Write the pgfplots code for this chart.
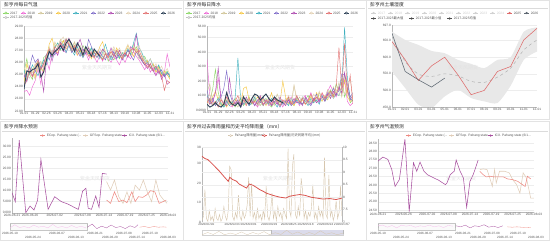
\documentclass[border=0pt]{standalone}
\usepackage{pgfplots}
\pgfplotsset{compat=1.18}
\usepgfplotslibrary{fillbetween}
\usepackage{fontspec}
\setmainfont{Liberation Sans}
\newfontfamily\cjk{Noto Sans CJK SC}

\newcommand{\fs}[1]{\fontsize{#1}{#1}\selectfont}

% season colours
\definecolor{y17}{HTML}{8CD867}
\definecolor{y18}{HTML}{EE6AD6}
\definecolor{y19}{HTML}{D2C79A}
\definecolor{y20}{HTML}{F6C744}
\definecolor{y21}{HTML}{3FB0BF}
\definecolor{y22}{HTML}{7E6BC9}
\definecolor{y23}{HTML}{B04FB2}
\definecolor{y24}{HTML}{E3D2B4}
\definecolor{y25}{HTML}{E37373}
\definecolor{y26}{HTML}{2E4257}
% forecast colours
\definecolor{fec}{HTML}{EE8A82}
\definecolor{fgfs}{HTML}{E0CDB8}
\definecolor{fic}{HTML}{A8509F}
\definecolor{soilred}{HTML}{DE6B6B}
\definecolor{soildark}{HTML}{5E6872}
\definecolor{rainbeige}{HTML}{D6C6AE}
\definecolor{rainred}{HTML}{D95550}
\definecolor{txt}{HTML}{555555}

\pgfplotsset{
  panel/.style={
    scale only axis,
    axis x line*=bottom, axis y line*=left,
    axis line style={-, draw=gray!55, line width=0.35pt},
    major tick length=0pt,
    ymajorgrids, grid style={draw=gray!14, line width=0.3pt},
    tick label style={font=\fs{3.2}, text=txt},
    /pgf/number format/assume math mode=true,
    xticklabel style={inner sep=0.9pt},
    yticklabel style={inner sep=1pt},
    every axis plot/.append style={line width=0.45pt, mark=none},
  },
  slider/.style={
    scale only axis, hide axis, clip=true,
    every axis plot/.append style={line width=0.3pt, mark=none},
  },
}

% weekly series: one value per week, week number taken from the row index
\newcommand{\wk}[2]{\addplot[#1] table[header=false,row sep=\\,x expr=\coordindex,y index=0]{#2};}

% legend keys
\newcommand{\keyo}[4]{% x, y, colour, text  (line with hollow circle)
  \draw[#3, line width=0.45pt] (#1,#2) -- ++(5.2,0);
  \draw[#3, fill=white, line width=0.45pt] (#1+2.6,#2) circle (1.1);
  \node[anchor=west, inner sep=0pt, font=\fs{3.3}, text=txt] at (#1+6.6,#2) {#4};}
\newcommand{\keyd}[4]{% x, y, colour, text  (line with dot)
  \draw[#3, line width=0.45pt] (#1,#2) -- ++(5.2,0);
  \fill[#3] (#1+2.6,#2) circle (1.2);
  \node[anchor=west, inner sep=0pt, font=\fs{3.3}, text=txt] at (#1+6.6,#2) {#4};}
\newcommand{\keyg}[3]{% x, y, text  (inactive entry)
  \draw[gray!35, line width=0.45pt] (#1,#2) -- ++(5.2,0);
  \fill[gray!35] (#1+2.6,#2) circle (1.2);
  \node[anchor=west, inner sep=0pt, font=\fs{3.3}, text=gray!40] at (#1+6.6,#2) {#3};}

\begin{document}
\begin{tikzpicture}

% ---------- frames, titles, legends ----------
\begin{scope}[x=1pt,y=1pt]
  \path (0,0) rectangle (550,241);
  \foreach \px in {0,183,366} {
    \draw[gray!22, line width=0.4pt] (\px+0.5,121.5) rectangle (\px+183.5,240.5);
    \draw[gray!22, line width=0.4pt] (\px+0.5,0.5) rectangle (\px+183.5,119.5);
    \draw[gray!28, line width=0.35pt] (\px+2,232.7) -- (\px+182,232.7);
    \draw[gray!28, line width=0.35pt] (\px+2,109.5) -- (\px+182,109.5);
  }
  \node[anchor=west, inner sep=0pt, font=\fs{4.8}\cjk, text=black!85] at (4,236) {彭亨州每日气温};
  \node[anchor=west, inner sep=0pt, font=\fs{4.8}\cjk, text=black!85] at (187,236) {彭亨州每日降水};
  \node[anchor=west, inner sep=0pt, font=\fs{4.8}\cjk, text=black!85] at (370,236) {彭亨州土壤湿度};
  \node[anchor=west, inner sep=0pt, font=\fs{4.8}\cjk, text=black!85] at (4,114) {彭亨州降水预测};
  \node[anchor=west, inner sep=0pt, font=\fs{4.8}\cjk, text=black!85] at (187,114) {彭亨州过去降雨量和历史平均降雨量（mm）};
  \node[anchor=west, inner sep=0pt, font=\fs{4.8}\cjk, text=black!85] at (370,114) {彭亨州气温预测};

  % watermarks
  \foreach \cx/\cy in {97/173, 280/173, 463/173, 95/62, 278/62, 461/62}
    \node[text=gray!22, font=\fs{5}\cjk] at (\cx,\cy) {紫金天风期货};

  % legends of the two weekly panels
  \foreach \ox in {0,183} {
    \keyo{\ox+3.3}{228}{y17}{2017}
    \keyo{\ox+20.8}{228}{y18}{2018}
    \keyo{\ox+38.3}{228}{y19}{2019}
    \keyo{\ox+55.8}{228}{y20}{2020}
    \keyo{\ox+73.3}{228}{y21}{2021}
    \keyo{\ox+90.8}{228}{y22}{2022}
    \keyo{\ox+108.3}{228}{y23}{2023}
    \keyo{\ox+125.8}{228}{y24}{2024}
    \keyo{\ox+143.3}{228}{y25}{2025}
    \keyo{\ox+160.8}{228}{y26}{2026}
    \keyo{\ox+3.3}{223.5}{gray!50}{\cjk 2017-2025均值}
  }
  % soil moisture legend
  \foreach \i/\yr in {0/2017,1/2018,2/2019,3/2020,4/2021,5/2022,6/2023,7/2024} {
    \keyg{371+17*\i}{228}{\yr}
  }
  \keyd{371+136}{228}{soilred}{2025}
  \keyd{371+153}{228}{soildark}{2026}
  \keyd{371}{222.5}{black!70}{\cjk 2017-2025最大值}
  \keyd{371+38}{222.5}{black!70}{\cjk 2017-2025最小值}
  \keyd{371+76}{222.5}{black!70}{\cjk 2017-2025均值}

  % forecast legends
  \foreach \ox in {0,366} {
    \keyd{\ox+40}{105.4}{fec}{ECop. Pahang state (...}
    \keyd{\ox+83}{105.4}{fgfs}{GFSop. Pahang state ...}
    \keyd{\ox+122}{105.4}{fic}{ICX. Pahang state (6/1...}
  }
  % rainfall history legend
  \keyo{228}{105.4}{rainbeige}{\cjk Pahang降雨量(mm)}
  \keyo{262}{105.4}{rainred}{\cjk Pahang降雨量(历史同期平均)(mm)}
\end{scope}

% ---------- daily temperature by season ----------
\begin{axis}[panel, at={(24pt,130pt)}, width=146pt, height=85pt,
  xmin=0, xmax=52, ymin=22, ymax=29,
  ytick={22,...,29}, yticklabels={22.00,23.00,24.00,25.00,26.00,27.00,28.00,29.00},
  xtick={0,4,...,52},
  xticklabels={01-01,01-29,02-26,03-26,04-23,05-21,06-18,07-16,08-13,09-10,10-08,11-05,12-03,12-31}]
\wk{y17}{25.2\\26.3\\25.0\\24.6\\25.8\\26.0\\25.3\\26.4\\26.6\\27.0\\26.5\\27.3\\27.6\\27.0\\27.8\\27.4\\27.9\\27.2\\27.6\\27.1\\26.8\\27.4\\26.9\\26.7\\27.2\\26.4\\26.9\\26.6\\26.3\\26.8\\26.1\\26.5\\26.2\\26.7\\26.3\\26.8\\26.5\\27.0\\26.6\\26.9\\27.3\\26.7\\26.2\\26.5\\25.9\\25.6\\25.8\\25.4\\25.7\\25.1\\24.9\\25.3\\24.8\\}
\wk{y18}{23.6\\23.7\\23.3\\24.0\\24.5\\25.5\\24.2\\25.8\\26.2\\25.4\\26.8\\27.1\\26.6\\27.5\\27.0\\26.8\\27.6\\26.9\\27.3\\26.6\\27.1\\26.4\\26.8\\26.2\\26.9\\26.5\\26.0\\26.6\\26.1\\26.7\\26.3\\26.0\\26.5\\26.2\\25.8\\26.4\\26.0\\26.6\\26.3\\26.9\\26.5\\26.2\\25.8\\25.4\\25.9\\25.2\\25.6\\25.0\\25.4\\24.8\\25.2\\26.7\\25.6\\}
\wk{y19}{25.0\\24.8\\25.6\\25.2\\24.6\\25.8\\26.1\\25.4\\26.5\\27.2\\26.7\\27.6\\27.3\\27.9\\27.4\\28.0\\27.6\\27.2\\27.7\\27.0\\26.6\\27.1\\26.8\\27.3\\26.5\\26.9\\26.4\\26.7\\27.0\\26.3\\26.8\\26.5\\27.1\\26.6\\27.0\\26.4\\26.8\\27.2\\26.7\\27.5\\26.9\\26.3\\26.6\\25.9\\26.2\\25.5\\25.8\\25.2\\25.6\\24.9\\25.3\\25.0\\24.7\\}
\wk{y20}{24.3\\25.9\\25.0\\25.5\\24.8\\26.0\\25.6\\25.2\\26.4\\27.5\\28.0\\27.0\\26.8\\27.4\\27.8\\27.1\\27.5\\26.9\\27.3\\26.6\\27.0\\26.5\\27.2\\26.8\\26.3\\26.9\\26.6\\27.3\\27.7\\26.8\\26.4\\26.9\\26.5\\27.2\\26.7\\26.3\\26.9\\27.4\\27.0\\26.5\\27.1\\26.6\\26.2\\25.8\\26.1\\25.5\\25.9\\25.2\\25.6\\24.9\\25.3\\25.0\\24.6\\}
\wk{y21}{25.4\\24.5\\25.1\\25.8\\25.3\\24.9\\25.6\\26.2\\25.8\\26.9\\26.4\\27.2\\27.6\\27.1\\27.5\\26.8\\27.4\\27.0\\26.6\\27.3\\26.8\\26.4\\27.0\\26.7\\27.2\\26.5\\26.9\\26.3\\26.8\\27.5\\26.7\\26.2\\26.6\\26.9\\26.4\\26.8\\26.5\\27.1\\26.7\\27.6\\28.4\\27.2\\26.8\\26.2\\25.9\\26.3\\25.7\\25.4\\25.8\\25.1\\24.9\\25.2\\24.8\\}
\wk{y22}{24.8\\25.2\\25.6\\26.6\\26.0\\26.3\\25.5\\25.9\\26.7\\26.2\\27.0\\26.6\\27.3\\27.7\\27.2\\27.9\\27.4\\26.8\\27.2\\26.9\\26.5\\27.1\\26.7\\27.9\\27.3\\26.8\\26.4\\26.9\\26.5\\26.2\\26.8\\26.4\\26.9\\26.3\\26.7\\26.2\\26.6\\27.0\\26.6\\26.2\\26.9\\26.5\\26.1\\25.8\\26.0\\25.6\\25.3\\25.7\\25.1\\25.4\\24.8\\25.1\\25.0\\}
\wk{y23}{25.0\\24.4\\25.7\\24.9\\25.3\\25.9\\25.1\\23.6\\26.3\\26.9\\26.1\\27.0\\26.6\\27.4\\26.9\\27.3\\28.0\\27.5\\26.9\\27.4\\27.9\\27.1\\26.7\\27.2\\26.6\\26.4\\26.9\\26.6\\27.1\\26.8\\26.5\\27.2\\26.6\\26.4\\27.0\\26.5\\26.8\\26.4\\27.3\\27.0\\28.3\\26.6\\26.2\\25.8\\25.5\\25.9\\25.3\\24.9\\25.4\\24.6\\25.1\\24.2\\24.4\\}
\wk{y24}{25.6\\25.0\\24.7\\25.4\\25.9\\25.3\\26.0\\25.7\\26.5\\27.3\\26.8\\27.7\\27.2\\27.8\\28.1\\27.4\\27.8\\27.3\\27.6\\27.0\\27.4\\26.8\\27.1\\26.6\\26.9\\26.3\\26.8\\27.2\\26.6\\26.9\\26.4\\26.8\\27.3\\26.7\\27.2\\26.6\\27.0\\27.5\\26.8\\27.3\\26.9\\27.4\\26.6\\26.2\\25.9\\26.3\\25.6\\25.9\\25.3\\25.7\\25.1\\25.5\\25.0\\}
\wk{y25}{24.0\\24.6\\25.3\\24.8\\25.6\\26.2\\25.4\\25.9\\26.6\\27.1\\26.5\\27.3\\27.0\\27.6\\27.2\\27.9\\27.5\\27.1\\27.4\\26.9\\27.2\\26.7\\27.0\\26.5\\26.8\\26.4\\26.9\\26.6\\26.2\\26.7\\26.4\\26.9\\26.5\\27.0\\26.6\\26.3\\26.8\\26.5\\27.0\\27.2\\26.8\\27.0\\26.4\\26.0\\25.6\\25.9\\25.3\\25.7\\25.2\\24.9\\23.7\\24.5\\24.3\\}
\wk{y26, line width=0.9pt}{23.8\\25.3\\25.2\\25.4\\25.5\\25.9\\24.8\\25.2\\26.2\\26.9\\26.6\\26.9\\27.1\\27.4\\27.0\\27.6\\27.9\\27.5\\26.9\\27.6\\27.2\\26.6\\27.3\\26.9\\26.5\\27.1\\26.8\\26.5\\}
\end{axis}

% ---------- daily rainfall by season ----------
\begin{axis}[panel, at={(207pt,131pt)}, width=146pt, height=84pt,
  xmin=0, xmax=52, ymin=0, ymax=58,
  ytick={0,10,20,30,40,50,58}, yticklabels={0.0000,10.00,20.00,30.00,40.00,50.00,58.00},
  xtick={0,4,...,52},
  xticklabels={01-01,01-29,02-26,03-26,04-23,05-21,06-18,07-16,08-13,09-10,10-08,11-05,12-03,12-31}]
\wk{y17}{8\\6\\14\\28\\12\\5\\3\\7\\4\\6\\2\\5\\8\\3\\6\\9\\4\\7\\5\\3\\6\\8\\4\\2\\5\\7\\3\\6\\4\\8\\5\\3\\9\\6\\4\\7\\10\\5\\8\\6\\12\\9\\7\\11\\14\\10\\18\\13\\22\\9\\15\\5\\7\\}
\wk{y18}{35\\10\\5\\12\\22\\8\\4\\6\\3\\2\\5\\7\\4\\9\\6\\3\\8\\5\\2\\6\\4\\7\\3\\5\\8\\4\\6\\2\\7\\5\\9\\4\\6\\3\\8\\10\\6\\12\\7\\9\\5\\11\\8\\13\\17\\12\\9\\15\\11\\20\\6\\3\\5\\}
\wk{y19}{12\\18\\6\\3\\9\\5\\2\\4\\7\\3\\5\\2\\6\\10\\4\\7\\5\\8\\3\\6\\9\\4\\7\\3\\5\\11\\6\\4\\8\\5\\3\\17\\6\\9\\4\\7\\5\\10\\6\\8\\12\\7\\9\\14\\8\\16\\11\\19\\9\\24\\13\\8\\10\\}
\wk{y20}{6\\4\\9\\13\\7\\3\\5\\2\\6\\4\\8\\5\\3\\15\\16\\7\\4\\6\\9\\5\\8\\3\\6\\12\\4\\7\\5\\20\\9\\4\\6\\3\\8\\5\\7\\4\\6\\9\\5\\12\\8\\6\\10\\7\\13\\9\\11\\16\\12\\21\\9\\6\\8\\}
\wk{y21}{10\\7\\3\\5\\8\\4\\2\\6\\3\\5\\8\\36\\7\\4\\6\\3\\5\\9\\4\\7\\3\\6\\4\\8\\5\\2\\7\\4\\6\\3\\8\\5\\7\\4\\9\\6\\3\\8\\5\\7\\4\\10\\6\\9\\12\\8\\11\\10\\15\\57\\22\\8\\6\\}
\wk{y22}{14\\5\\8\\3\\6\\9\\15\\27\\12\\6\\4\\7\\3\\5\\8\\4\\6\\3\\7\\5\\9\\4\\6\\3\\8\\5\\2\\6\\4\\7\\3\\5\\9\\6\\4\\8\\5\\3\\7\\11\\6\\9\\8\\12\\10\\15\\11\\13\\25\\24\\18\\9\\12\\}
\wk{y23}{9\\4\\6\\12\\29\\7\\5\\3\\22\\8\\4\\6\\2\\5\\9\\4\\7\\3\\6\\10\\4\\5\\8\\3\\6\\4\\9\\5\\3\\7\\4\\8\\5\\6\\3\\9\\6\\4\\8\\5\\7\\9\\6\\11\\8\\13\\10\\16\\12\\26\\14\\7\\10\\}
\wk{y24}{7\\11\\4\\6\\3\\8\\5\\9\\4\\7\\3\\6\\10\\5\\8\\4\\6\\11\\5\\3\\7\\4\\9\\6\\3\\8\\5\\7\\4\\10\\6\\17\\8\\5\\9\\7\\4\\6\\11\\8\\13\\7\\10\\9\\12\\8\\14\\10\\16\\11\\19\\21\\8\\}
\wk{y25}{5\\8\\3\\6\\2\\7\\4\\9\\5\\3\\6\\10\\4\\7\\3\\8\\5\\6\\4\\9\\3\\7\\5\\4\\8\\6\\3\\7\\5\\9\\4\\6\\10\\5\\8\\4\\7\\11\\6\\9\\7\\12\\8\\10\\13\\9\\16\\43\\14\\46\\12\\24\\4\\}
\wk{y26, line width=0.9pt}{4\\2\\3\\5\\3\\2\\4\\12\\6\\4\\3\\5\\2\\9\\6\\4\\8\\11\\10\\7\\9\\11\\8\\6\\9\\7\\6\\5\\}
\end{axis}

% ---------- soil moisture ----------
\begin{axis}[panel, at={(392pt,134pt)}, width=145pt, height=82pt,
  xmin=1, xmax=12, ymin=450, ymax=697,
  ytick={450,500,550,600,650,697}, yticklabels={450.0,500.0,550.0,600.0,650.0,697.0},
  xtick={1,...,12},
  xticklabels={01-01,02-01,03-01,04-01,05-01,06-01,07-01,08-01,09-01,10-01,11-01,12-01}]
\addplot[name path=up, draw=none, smooth, tension=0.4] coordinates
  {(1,677) (2,652) (3,637) (4,619) (5,612) (6,592) (7,580) (8,567) (9,592) (10,600) (11,677) (12,690)};
\addplot[name path=lo, draw=none, smooth, tension=0.4] coordinates
  {(1,557) (2,507) (3,457) (4,447) (5,482) (6,502) (7,477) (8,467) (9,462) (10,514) (11,592) (12,617)};
\addplot[fill=gray!18, draw=none] fill between[of=up and lo];
\addplot[gray!60, dashed, line width=0.5pt, smooth, tension=0.4] coordinates
  {(1,662) (2,587) (3,549) (4,542) (5,550) (6,544) (7,527) (8,524) (9,540) (10,567) (11,622) (12,652)};
\addplot[soilred, line width=0.55pt] coordinates
  {(1,647) (2,592) (3,530) (4,574) (5,600) (6,547) (7,487) (8,500) (9,557) (10,572) (11,652) (12,687)};
\addplot[soildark, line width=0.55pt] coordinates
  {(1,672) (2,557) (3,532) (4,510) (5,537)};
\end{axis}

% ---------- rainfall forecast ----------
\begin{axis}[panel, at={(12pt,28.3pt)}, width=156pt, height=74.4pt,
  xmin=30, xmax=505, ymin=0, ymax=33.5,
  ytick={0,5,10,15,20,25,30}, yticklabels={0.000,5.000,10.00,15.00,20.00,25.00,30.00},
  xtick={30,85,160,245,310,375,440,505},
  xticklabels={2026-06-21,2026-06-26,2026-07-02,2026-07-08,2026-07-14,2026-07-19,2026-07-25,2026-08-03}]
\addplot[fic, line width=0.55pt] coordinates {(30,9) (40,5) (52,32.7) (72,0) (85,3) (97,1.2) (108,5.7) (118,24) (140,1.5) (160,7.2) (180,5) (200,3.9) (225,2) (232,1.5) (245,9.7) (255,11) (262,2) (272,1.5) (285,7.5) (295,2.4) (305,17.7) (318,17.4)};
\addplot[fgfs, line width=0.55pt] coordinates {(318,14) (330,10.2) (342,14.7) (355,7.2) (368,4.2) (380,9.4) (392,4.2) (405,12.4) (418,10.2) (430,14.7) (442,9.4) (455,5) (468,14.7) (480,8) (492,5.7) (502,4.2)};
\addplot[fec, line width=0.55pt] coordinates {(318,5.7) (330,4.2) (342,9.4) (355,5) (368,5.7) (380,4.5) (395,9.4) (405,5) (415,7.2) (428,6.9) (440,8) (452,9.9) (465,9.4) (478,4.2) (490,5) (500,5.7)};
\end{axis}

% ---------- temperature forecast ----------
\begin{axis}[panel, at={(378pt,29.3pt)}, width=156pt, height=72.7pt,
  xmin=30, xmax=505, ymin=24.4, ymax=28.75,
  ytick={24.5,25,...,28.5}, yticklabels={24.50,25.00,25.50,26.00,26.50,27.00,27.50,28.00,28.50},
  xtick={30,108,180,245,310,375,440,505},
  xticklabels={2026-06-21,2026-06-26,2026-07-02,2026-07-08,2026-07-14,2026-07-19,2026-07-25,2026-08-03}]
\addplot[fic, line width=0.55pt] coordinates {(30,27.43) (45,27.67) (60,27.53) (72,26.92) (82,25.91) (95,26.32) (112,28.74) (125,24.40) (138,27.33) (148,26.82) (158,27.37) (170,26.82) (180,26.62) (200,26.42) (215,26.28) (235,26.02) (240,26.12) (250,26.62) (262,26.82) (268,27.49) (280,26.82) (290,26.42) (300,24.66) (310,26.22) (320,26.62) (335,27.49)};
\addplot[fgfs, line width=0.55pt] coordinates {(340,26.92) (350,26.96) (362,26.92) (372,26.32) (378,25.91) (385,26.92) (390,26.12) (400,26.82) (415,26.82) (430,26.72) (440,26.32) (452,26.02) (462,25.51) (472,26.72) (482,26.42) (495,25.21) (505,25.21)};
\addplot[fec, line width=0.55pt] coordinates {(340,26.82) (350,26.62) (360,26.48) (372,26.52) (385,26.48) (400,26.48) (412,26.48) (425,26.36) (440,26.32) (455,26.22) (470,26.02) (478,25.91) (485,26.52) (495,26.36)};
\end{axis}

% ---------- rainfall history vs average ----------
\begin{axis}[panel, at={(202pt,18.7pt)}, width=140pt, height=75pt,
  xmin=0, xmax=192, ymin=0, ymax=38.5, ymajorgrids=false,
  ytick={0,10,20,30,38.5}, yticklabels={0,10,20,30,38},
  xtick={6,42,64,92,119,142,169,192},
  xticklabels={2026/01/02,2026/02/07,2026/03/01,2026/03/29,2026/04/25,2026/05/18,2026/06/14,2026/07/07}]
\addplot[rainbeige, line width=0.45pt] table[header=false,row sep=\\,x expr=2*\coordindex,y index=0]{1\\3\\16.8\\2\\0.5\\6\\1\\3\\0.5\\7\\2\\1\\4\\0.5\\2\\8\\3\\1\\6\\28.7\\27\\3\\1\\5\\2\\14\\3\\1\\6\\2\\4\\9\\23\\3\\20\\2\\5\\1\\7\\2\\4\\1\\6\\2\\18.5\\3\\1\\5\\15\\2\\6\\1\\8\\3\\5\\1\\7\\4\\2\\37.8\\6\\3\\28.7\\35\\4\\2\\8\\3\\22.7\\16\\2\\6\\1\\5\\3\\7\\19.3\\2\\5\\1\\8\\3\\6\\2\\33.3\\4\\2\\24.4\\3\\6\\1\\4\\11\\2\\5\\18.5\\3\\};
\end{axis}
\begin{axis}[panel, at={(202pt,18.7pt)}, width=140pt, height=75pt,
  axis x line=none, axis y line*=right,
  xmin=0, xmax=192, ymin=7, ymax=10,
  ytick={7,7.5,...,10}, yticklabels={7,7.5,8,8.5,9,9.5,10}]
\addplot[rainred, line width=0.8pt] coordinates {(0,9.64) (4,9.55) (8,9.51) (15,9.31) (24,9.04) (31,8.80) (36,8.64) (38,8.80) (42,8.71) (47,8.65) (51,8.53) (56,8.45) (61,8.37) (65,8.53) (70,8.48) (75,8.39) (79,8.31) (84,8.24) (88,8.17) (93,8.12) (97,8.08) (102,8.04) (106,8.01) (115,7.97) (120,8.04) (127,8.08) (134,8.11) (141,8.08) (150,8.00) (157,7.97) (166,7.93) (175,7.95) (184,7.91) (192,7.97)};
\end{axis}

% ---------- range sliders ----------
\begin{scope}[x=1pt,y=1pt]
  % rainfall forecast
  \draw[gray!45, fill=gray!4, line width=0.35pt] (10,11) rectangle (87,18);
  \fill[gray!55] (9.5,12.5) rectangle (10.5,16.5);
  \fill[gray!55] (86.5,12.5) rectangle (87.5,16.5);
  % temperature forecast
  \draw[gray!45, fill=gray!4, line width=0.35pt] (378,11) rectangle (455,18);
  \fill[gray!55] (377.5,12.5) rectangle (378.5,16.5);
  \fill[gray!55] (454.5,12.5) rectangle (455.5,16.5);
  % rainfall history
  \draw[gray!35, line width=0.35pt] (202,5.7) rectangle (343,11.3);
  \fill[blue!30!gray!22] (271,5.7) rectangle (343,11.3);
  \fill[gray!55] (270.5,6.5) rectangle (271.5,10.5);
  \fill[gray!55] (342.5,6.5) rectangle (343.5,10.5);
  % slider date labels
  \foreach \lx/\lt in {10/2026-05-19, 57/2026-06-07, 95/2026-06-21, 124/2026-07-08, 150/2026-07-19} {
    \node[font=\fs{3.1}, text=txt, inner sep=0pt] at (\lx,8) {\lt};
    \node[font=\fs{3.1}, text=txt, inner sep=0pt] at (366+\lx+2,8) {\lt};}
  \foreach \lx/\lt in {33/2026-05-24, 76/2026-06-13, 110/2026-06-29, 137/2026-07-14, 168/2026-08-03} {
    \node[font=\fs{3.1}, text=txt, inner sep=0pt] at (\lx,4) {\lt};
    \node[font=\fs{3.1}, text=txt, inner sep=0pt] at (366+\lx+2,4) {\lt};}
\end{scope}

\begin{axis}[slider, at={(10pt,11pt)}, width=158pt, height=7pt, xmin=0, xmax=100, ymin=0, ymax=1]
\addplot[y18!45] coordinates {(0,0.3) (3,0.75) (6,0.35) (9,0.5) (12,0.3) (15,0.7) (18,0.4) (21,0.55) (24,0.3) (27,0.8) (30,0.35) (33,0.5) (36,0.3) (39,0.65) (42,0.35) (45,0.55) (48,0.3)};
\addplot[fic] coordinates {(49,0.4) (52,0.85) (55,0.2) (58,0.55) (61,0.3) (64,0.7) (67,0.35) (70,0.5) (73,0.2) (76,0.6) (79,0.35) (81,0.75)};
\addplot[fec] coordinates {(82,0.4) (85,0.5) (88,0.35) (91,0.5) (94,0.4) (97,0.45) (99,0.4)};
\end{axis}
\begin{axis}[slider, at={(378pt,11pt)}, width=156pt, height=7pt, xmin=0, xmax=100, ymin=0, ymax=1]
\addplot[y18!45] coordinates {(0,0.6) (3,0.7) (6,0.4) (9,0.65) (12,0.3) (15,0.7) (18,0.55) (21,0.65) (24,0.4) (27,0.6) (30,0.5) (33,0.7) (36,0.45) (39,0.6) (42,0.35) (45,0.65) (48,0.55)};
\addplot[fic] coordinates {(50,0.6) (53,0.45) (56,0.7) (59,0.3) (62,0.6) (65,0.5) (68,0.75) (71,0.4) (74,0.55) (77,0.35) (80,0.6)};
\addplot[fec] coordinates {(83,0.45) (86,0.4) (89,0.45) (92,0.4) (95,0.35) (98,0.4)};
\end{axis}
\begin{axis}[slider, at={(202pt,5.7pt)}, width=141pt, height=5.6pt, xmin=0, xmax=100, ymin=0, ymax=1]
\addplot[rainbeige] coordinates {(0,0.1) (4,0.5) (8,0.15) (12,0.7) (16,0.1) (20,0.4) (24,0.15) (28,0.6) (32,0.1) (36,0.5) (40,0.2) (44,0.65) (48,0.1) (52,0.45) (56,0.15) (60,0.9) (64,0.2) (68,0.6) (72,0.1) (76,0.5) (80,0.15) (84,0.8) (88,0.2) (92,0.45) (96,0.1) (100,0.4)};
\end{axis}

\end{tikzpicture}
\end{document}
